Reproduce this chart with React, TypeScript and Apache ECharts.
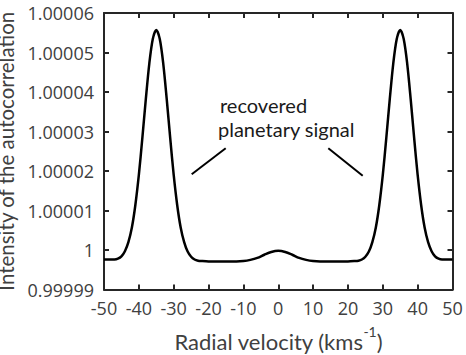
import React, { useEffect, useRef } from "react";
import * as echarts from "echarts";

const velocity = [
  -50, -48, -47, -46, -45, -44, -43, -42, -41, -40, -39, -38, -37, -36, -35,
  -34, -33, -32, -31, -30, -29, -28, -27, -26, -25, -24, -23, -22, -20, -17,
  -14, -12, -10, -8, -6, -4, -2, 0, 2, 4, 6, 8, 10, 12, 14, 17, 20, 22, 23, 24,
  25, 26, 27, 28, 29, 30, 31, 32, 33, 34, 35, 36, 37, 38, 39, 40, 41, 42, 43,
  44, 45, 46, 47, 48, 50,
];

const intensity = [
  0.9999976, 0.9999976, 0.9999976, 0.9999978, 0.9999984, 0.9999997, 1.000002,
  1.0000057, 1.0000114, 1.000019, 1.0000283, 1.0000382, 1.0000472, 1.0000534,
  1.0000557, 1.0000534, 1.0000472, 1.0000382, 1.0000283, 1.000019, 1.0000114,
  1.0000057, 1.000002, 0.9999996, 0.9999983, 0.9999976, 0.9999973, 0.9999972,
  0.9999971, 0.9999971, 0.9999971, 0.9999971, 0.9999972, 0.9999975, 0.999998,
  0.9999988, 0.9999995, 0.9999998, 0.9999995, 0.9999988, 0.999998, 0.9999975,
  0.9999972, 0.9999971, 0.9999971, 0.9999971, 0.9999971, 0.9999972, 0.9999973,
  0.9999976, 0.9999983, 0.9999996, 1.000002, 1.0000057, 1.0000114, 1.000019,
  1.0000283, 1.0000382, 1.0000472, 1.0000534, 1.0000557, 1.0000534, 1.0000472,
  1.0000382, 1.0000283, 1.000019, 1.0000114, 1.0000057, 1.000002, 0.9999997,
  0.9999984, 0.9999978, 0.9999976, 0.9999976, 0.9999976,
];

const xMin = -50;
const xMax = 50;
const xStep = 10;
const yMin = 0.99999;
const yMax = 1.00006;
const yStep = 0.00001;

const annotationLines = ["recovered", "planetary signal"];

const FONT = "Lato, 'Noto Sans', sans-serif";
const TICK_FONT = "'Open Sans', 'Noto Sans', sans-serif";
const AXIS_COLOR = "#262626";
const LABEL_COLOR = "#404040";

export default function App() {
  const ref = useRef<HTMLDivElement>(null);

  useEffect(() => {
    if (!ref.current) return;
    const chart = echarts.init(ref.current, undefined, { renderer: "svg" });
    const boxLine = {
      show: true,
      onZero: false,
      lineStyle: { color: AXIS_COLOR, width: 2 },
    };
    const tick = {
      show: true,
      inside: true,
      length: 5,
      lineStyle: { color: AXIS_COLOR, width: 2 },
    };
    const fmtY = (v: number) => parseFloat(v.toFixed(5)).toString();
    chart.setOption({
      animation: false,
      backgroundColor: "#ffffff",
      grid: {
        left: 104,
        right: 13.5,
        top: 13,
        bottom: 65.5,
        containLabel: false,
        outerBoundsMode: "none",
      },
      xAxis: [
        {
          type: "value",
          position: "bottom",
          min: xMin,
          max: xMax,
          interval: xStep,
          axisLine: boxLine,
          axisTick: tick,
          splitLine: { show: false },
          axisLabel: {
            color: LABEL_COLOR,
            fontFamily: TICK_FONT,
            fontSize: 18,
            margin: 9,
          },
          name: "{a|Radial velocity (kms}{b|-1}{a|)}",
          nameLocation: "middle",
          nameGap: 35,
          nameTextStyle: {
            rich: {
              a: {
                fontFamily: FONT,
                fontSize: 22,
                color: LABEL_COLOR,
                lineHeight: 28,
                verticalAlign: "bottom",
              },
              b: {
                fontFamily: FONT,
                fontSize: 14,
                color: LABEL_COLOR,
                lineHeight: 14,
                verticalAlign: "top",
              },
            },
          },
        },
        {
          type: "value",
          position: "top",
          min: xMin,
          max: xMax,
          interval: xStep,
          axisLine: boxLine,
          axisTick: tick,
          axisLabel: { show: false },
          splitLine: { show: false },
        },
      ],
      yAxis: [
        {
          type: "value",
          position: "left",
          min: yMin,
          max: yMax,
          interval: yStep,
          axisLine: boxLine,
          axisTick: tick,
          splitLine: { show: false },
          axisLabel: {
            color: LABEL_COLOR,
            fontFamily: TICK_FONT,
            fontSize: 18,
            margin: 10,
            formatter: fmtY,
          },
          name: "Intensity of the autocorrelation",
          nameLocation: "middle",
          nameGap: 74,
          nameTextStyle: {
            fontFamily: FONT,
            fontSize: 20.5,
            color: LABEL_COLOR,
          },
        },
        {
          type: "value",
          position: "right",
          min: yMin,
          max: yMax,
          interval: yStep,
          axisLine: boxLine,
          axisTick: tick,
          axisLabel: { show: false },
          splitLine: { show: false },
        },
      ],
      series: [
        {
          type: "line",
          data: velocity.map((v, i) => [v, intensity[i]]),
          showSymbol: false,
          smooth: 0.3,
          lineStyle: { color: "#000000", width: 2.5 },
          xAxisIndex: 0,
          yAxisIndex: 0,
        },
      ],
      graphic: [
        {
          type: "text",
          x: 220,
          y: 105,
          style: {
            text: annotationLines[0],
            font: `20px ${FONT}`,
            fill: "#1a1a1a",
            textAlign: "left",
            textVerticalAlign: "middle",
          },
        },
        {
          type: "text",
          x: 218,
          y: 129,
          style: {
            text: annotationLines[1],
            font: `20px ${FONT}`,
            fill: "#1a1a1a",
            textAlign: "left",
            textVerticalAlign: "middle",
          },
        },
        {
          type: "line",
          shape: { x1: 191.7, y1: 174.3, x2: 225.7, y2: 148.3 },
          style: { stroke: "#000000", lineWidth: 2 },
        },
        {
          type: "line",
          shape: { x1: 328.3, y1: 148.3, x2: 362.7, y2: 175.7 },
          style: { stroke: "#000000", lineWidth: 2 },
        },
      ],
    });
    return () => chart.dispose();
  }, []);

  return (
    <div
      ref={ref}
      style={{ position: "fixed", left: 0, top: 0, width: 466, height: 355 }}
    />
  );
}
